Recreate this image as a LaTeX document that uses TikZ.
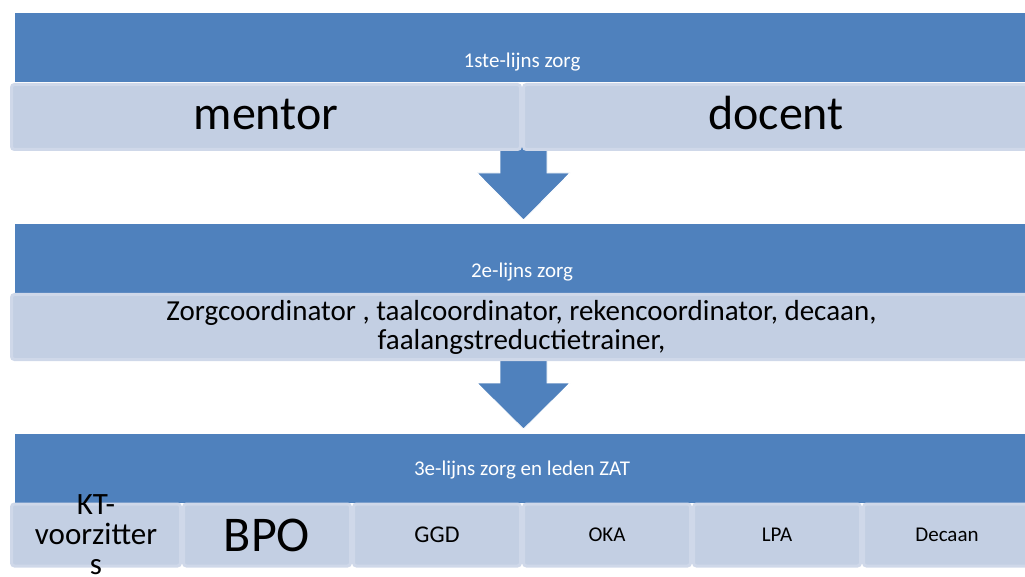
\documentclass[tikz,border=0pt]{standalone}
\usepackage{fontspec}
\setmainfont{Carlito}
\usetikzlibrary{positioning}
\definecolor{bandblue}{HTML}{4F81BD}
\definecolor{cellfill}{HTML}{C3CFE3}
\definecolor{cellline}{HTML}{CFD8E9}

\begin{document}
\begin{tikzpicture}[x=1pt, y=-1pt,
band/.style={fill=bandblue, anchor=west, minimum width=1015pt, minimum height=69pt, inner sep=0pt},
bandtext/.style={text=white, anchor=base, inner sep=0pt, font=\fontsize{21}{25}\selectfont},
cell/.style={fill=cellfill, draw=cellline, line width=3pt, rounded corners=3pt, inner sep=0pt,
             align=center, minimum height=65pt},
bigcell/.style={cell, font=\fontsize{48}{58}\selectfont, text height=26pt, text depth=0pt},
zatcell/.style={cell, minimum width=167pt, minimum height=62pt, font=\fontsize{21}{25}\selectfont},
blockarrow/.style={fill=bandblue, draw=white, line width=0.8pt}
]
\useasboundingbox (0,0) rectangle (1025,577);

\node[band] (band1) at (15,47.5) {};
\node[band] (band2) at (15,258.5) {};
\node[band] (band3) at (15,468) {};

\coordinate (tip1) at (523.5,220);
\coordinate (tip2) at (523.5,429);
\draw[blockarrow] (tip1) -- ++(-46.5,-47) -- ++(23,0) -- ++(0,-32) -- ++(47,0) -- ++(0,32) -- ++(23,0) -- cycle;
\draw[blockarrow] (tip2) -- ++(-46.5,-46) -- ++(23,0) -- ++(0,-30) -- ++(47,0) -- ++(0,30) -- ++(23,0) -- cycle;

\node[bandtext] (title1) at (522,68) {1ste-lijns zorg};
\node[bandtext] (title2) at (522,278) {2e-lijns zorg};
\node[bandtext] (title3) at (522,475) {3e-lijns zorg en leden ZAT};

\node[bigcell, anchor=west, minimum width=509pt] (mentor) at (10,117) {mentor};
\node[bigcell, right=0pt of mentor, minimum width=505pt] (docent) {docent};

\node[cell, anchor=west, minimum width=1020pt, font=\fontsize{29}{29}\selectfont] (tweede) at (10,327)
{Zorgcoordinator , taalcoordinator, rekencoordinator, decaan,\\faalangstreductietrainer,};

\node[zatcell, anchor=west, minimum width=169pt] (kt) at (10,535) {};
\node[zatcell, right=0pt of kt, font=\fontsize{50}{60}\selectfont] (bpo) {BPO};
\node[zatcell, right=0pt of bpo, font=\fontsize{24}{28}\selectfont] (ggd) {GGD};
\node[zatcell, right=0pt of ggd] (oka) {OKA};
\node[zatcell, right=0pt of oka] (lpa) {LPA};
\node[zatcell, right=0pt of lpa] (decaan) {Decaan};
\node[align=center, inner sep=0pt, font=\fontsize{31}{30}\selectfont] (kttext) at (kt.center)
{KT-\\voorzitter\\s};
\end{tikzpicture}
\end{document}
